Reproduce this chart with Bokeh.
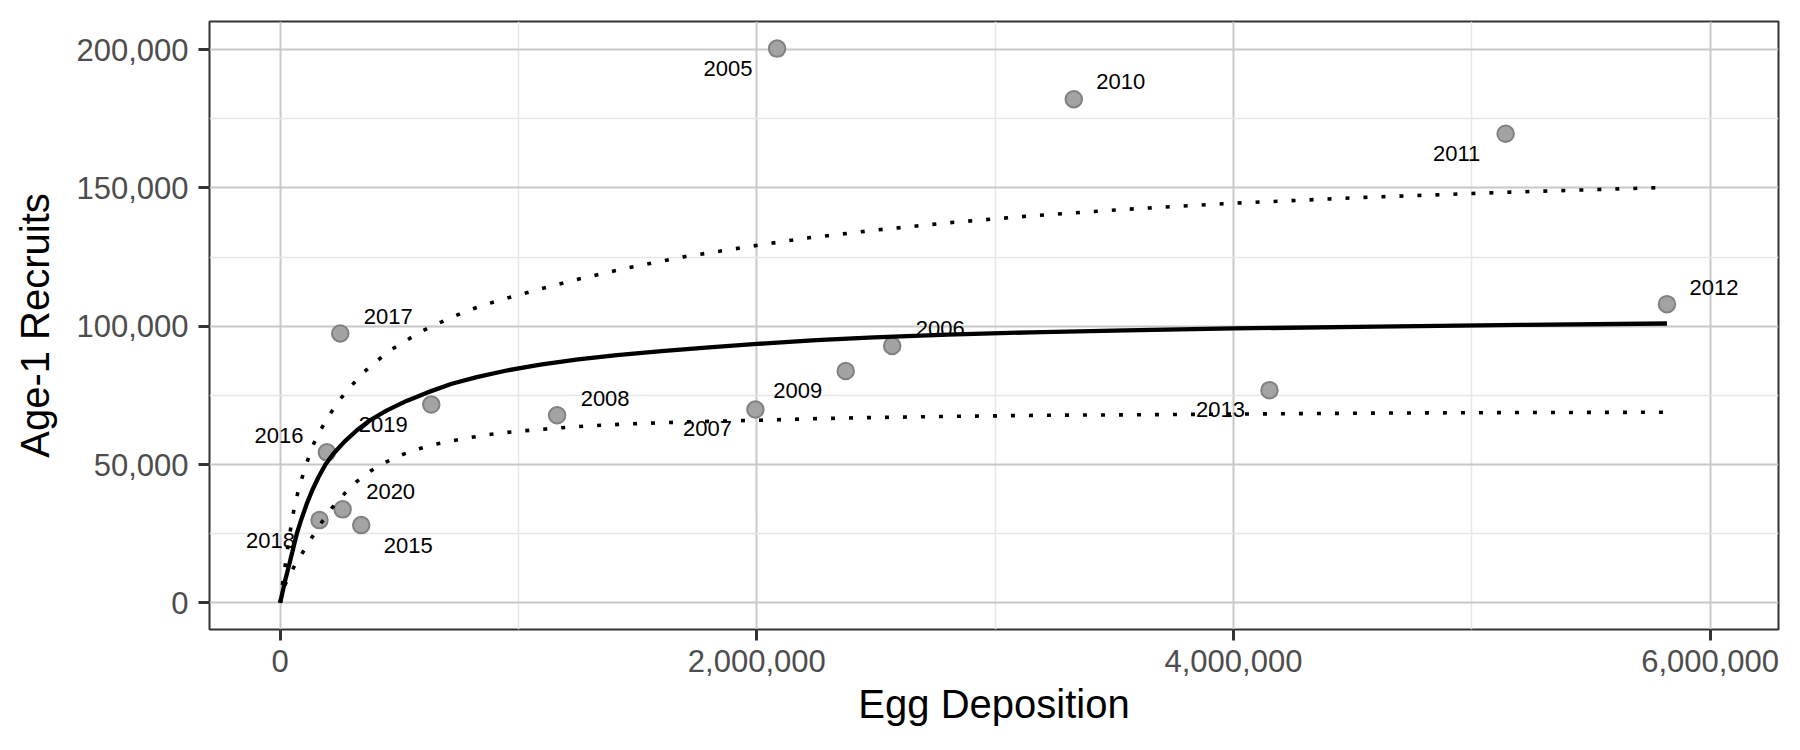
from bokeh.plotting import figure
from bokeh.models import ColumnDataSource, NumeralTickFormatter, FixedTicker, Range1d
from bokeh.embed import file_html
from bokeh.resources import INLINE
from bokeh.core.properties import value

# ---- data ----
years = ["2005", "2006", "2007", "2008", "2009", "2010", "2011", "2012",
         "2013", "2015", "2016", "2017", "2018", "2019", "2020"]
eggs = [2085000, 2568000, 1994000, 1162000, 2373000, 3330000, 5142000, 5819000,
        4151000, 340000, 196000, 252000, 165000, 634000, 262000]
recruits = [200400, 92900, 69900, 67800, 83800, 182100, 169600, 108000,
            76900, 28100, 54400, 97400, 29900, 71700, 33800]

# fitted stock-recruit curve
fit_eggs = [0, 20000, 39000, 55000, 70000, 90000, 112000, 135000, 161000,
            190000, 224000, 270000, 322000, 380000, 448000, 530000, 616000,
            720000, 825000, 950000, 1092000, 1250000, 1413000, 1600000,
            1800000, 2001000, 2250000, 2491000, 2800000, 3150000, 3550000,
            4002000, 4600000, 5206000, 5819000]
fit_recruits = [0, 7800, 14200, 19800, 25100, 30500, 35900, 40800, 45500,
                50000, 54000, 58300, 62400, 66200, 69600, 73000, 76000,
                79200, 81600, 84000, 86100, 88000, 89600, 91000,
                92400, 93600, 95000, 96000, 97000, 97800, 98500,
                99200, 99900, 100500, 101000]

# upper dotted bound
upper_eggs = [0, 10000, 21000, 38000, 56000, 73000, 91000, 115000, 140000,
              175000, 210000, 255000, 301000, 350000, 406000, 465000, 532000,
              595000, 660000, 730000, 798000, 870000, 945000, 1092000,
              1250000, 1441000, 1700000, 1959000, 2200000, 2491000, 2800000,
              3149000, 3550000, 4002000, 4550000, 5164000, 5819000]
upper_recruits = [0, 7000, 13600, 23800, 32900, 39500, 45000, 51500, 57400,
                  63300, 68400, 74000, 78700, 83300, 87500, 91500, 95000,
                  98300, 100900, 103600, 106000, 108100, 110000, 113500,
                  117000, 120800, 125200, 128700, 131800, 134700, 137400,
                  139900, 142300, 144500, 146600, 148500, 150200]

# lower dotted bound
lower_eggs = [0, 14000, 56000, 95000, 133000, 175000, 217000, 270000, 322000,
              380000, 441000, 510000, 581000, 650000, 725000, 800000, 875000,
              950000, 1021000, 1166000, 1300000, 1469000, 1700000, 1994000,
              2250000, 2491000, 2800000, 3191000, 3600000, 4086000, 4600000,
              5199000, 5819000]
lower_recruits = [0, 5500, 12700, 18300, 23600, 29200, 34300, 39500, 43900,
                  47700, 50800, 53500, 55700, 57300, 58600, 59800, 60800,
                  61600, 62200, 63200, 64000, 64700, 65400, 66000,
                  66600, 67000, 67400, 67800, 68000, 68300, 68600,
                  68800, 68900]

x_ticks = [0, 2000000, 4000000, 6000000]
x_minor = [1000000, 3000000, 5000000]
y_ticks = [0, 50000, 100000, 150000, 200000]
y_minor = [25000, 75000, 125000, 175000]

# label placement (screen pixel offsets from each point, ggrepel-like)
label_dx = [-49, 48, -48, 48, -48, 47, -49, 47, -49, 47, -48, 48, -49, -48, 48]
label_dy = [20, -17, 19, -17, 19, -18, 20, -17, 19, 20, -17, -17, 20, 20, -18]

FONT = "Liberation Sans"

p = figure(width=1784, height=734, output_backend="svg", toolbar_location=None,
           x_range=Range1d(-296600, 6287000), y_range=Range1d(-9650, 210200),
           min_border_left=209, min_border_right=6, min_border_top=21,
           min_border_bottom=105)
p.background_fill_color = "white"
p.border_fill_color = "white"
p.outline_line_color = "#333333"
p.outline_line_width = 2

# grids
p.xgrid.ticker = FixedTicker(ticks=x_ticks, minor_ticks=x_minor)
p.ygrid.ticker = FixedTicker(ticks=y_ticks, minor_ticks=y_minor)
for g in (p.xgrid, p.ygrid):
    g.grid_line_color = "#c8c8c8"
    g.grid_line_width = 2
    g.minor_grid_line_color = "#e6e6e6"
    g.minor_grid_line_width = 1.5

# axes
p.xaxis.ticker = FixedTicker(ticks=x_ticks)
p.yaxis.ticker = FixedTicker(ticks=y_ticks)
for ax in (p.xaxis, p.yaxis):
    ax.formatter = NumeralTickFormatter(format="0,0")
    ax.axis_line_color = None
    ax.major_tick_out = 11
    ax.major_tick_in = 0
    ax.major_tick_line_width = 3
    ax.major_tick_line_color = "#333333"
    ax.minor_tick_line_color = None
    ax.major_label_text_font = FONT
    ax.major_label_text_font_size = "31px"
    ax.major_label_text_color = "#4d4d4d"
    ax.axis_label_text_font = FONT
    ax.axis_label_text_font_size = "40px"
    ax.axis_label_text_font_style = "normal"
    ax.axis_label_text_color = "black"
p.xaxis.axis_label = "Egg Deposition"
p.yaxis.axis_label = "Age-1 Recruits"
p.xaxis.major_label_standoff = 9
p.yaxis.major_label_standoff = 10
p.xaxis.axis_label_standoff = 7
p.yaxis.axis_label_standoff = 16

# points
pts = ColumnDataSource(dict(x=eggs, y=recruits, label=years,
                            dx=label_dx, dy=label_dy))
p.scatter("x", "y", source=pts, size=16.5, fill_color="#a3a3a3",
          line_color="#818181", line_width=2)

# fitted curve and bounds
p.line(fit_eggs, fit_recruits, line_color="black", line_width=4.3)
p.line(upper_eggs, upper_recruits, line_color="black", line_width=3.6,
       line_dash="4 14", line_cap="butt")
p.line(lower_eggs, lower_recruits, line_color="black", line_width=3.6,
       line_dash="4 14", line_cap="butt")

# labels
p.text("x", "y", text="label", source=pts, x_offset="dx", y_offset="dy",
       text_font=value(FONT), text_font_size="22px", text_color="black",
       text_align="center", text_baseline="middle")

open("out.html", "w").write(file_html(p, INLINE))
